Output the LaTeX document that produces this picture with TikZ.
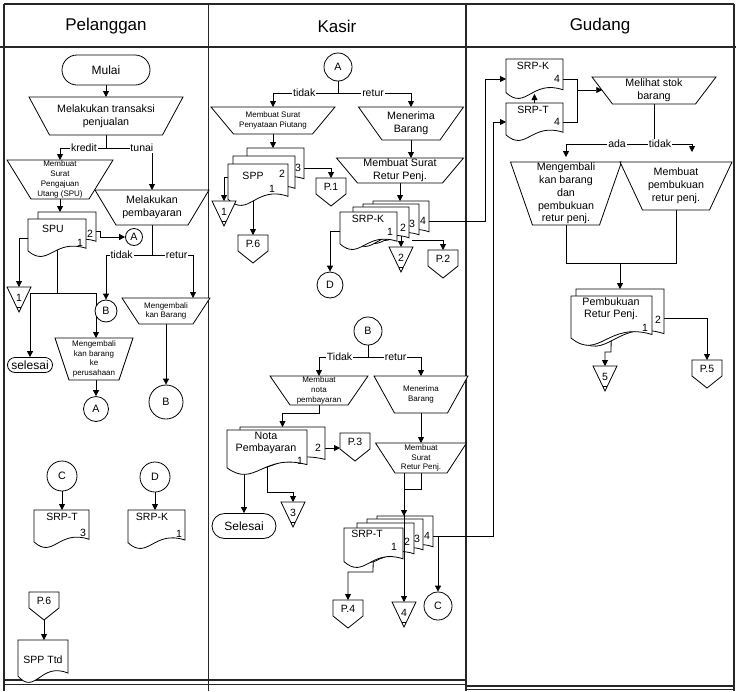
\documentclass[tikz,border=0pt]{standalone}
\usepackage{fontspec}
\setmainfont{Liberation Sans}
\usetikzlibrary{arrows.meta,calc}
\pgfdeclarelayer{lanes}
\pgfdeclarelayer{conn}
\pgfsetlayers{lanes,conn,main}

\newcommand\fn{\fontsize{10.7pt}{12.8pt}\selectfont}
\newcommand\fsm{\fontsize{8pt}{9.8pt}\selectfont}
\newcommand\fhd{\fontsize{17pt}{20pt}\selectfont}
\newcommand\flb{\fontsize{10.5pt}{12pt}\selectfont}
\newcommand\ftm{\fontsize{12pt}{14pt}\selectfont}

\tikzset{
 shp/.style={draw=black, line width=0.8pt, fill=white, line join=miter},
 inv/.style={draw=none, inner sep=0pt, outer sep=0pt},
 arr/.style={draw=black, line width=0.8pt, -{Triangle[length=6pt,width=6pt]}},
 ln/.style={draw=black, line width=0.8pt},
 lbl/.style={fill=white, inner sep=0.8pt, font=\flb},
 txt/.style={inner sep=0pt, font=\flb},
 term/.style={shp, inner sep=0pt, font=\ftm},
 circ/.style={shp, circle, inner sep=0pt, font=\fn},
 lane/.style={draw=black!85, line width=1.6pt},
}

% manual operation: name, cx, ytop, topw, botw, h, font, text
\newcommand\manop[8]{%
 \draw[shp] ({#2-#4/2},#3) -- ({#2+#4/2},#3) -- ({#2+#5/2},{#3+#6}) -- ({#2-#5/2},{#3+#6}) -- cycle;
 \node[inv, minimum width={(#4+#5)/2*1pt}, minimum height=#6pt, font=#7, align=center] (#1) at (#2,{#3+#6/2}) {#8};
}
% document page: name, x, y, w, h
\newcommand\docpage[5]{%
 \node[inv, anchor=north west, minimum width=#4pt, minimum height=#5pt] (#1) at (#2,#3) {};
 \draw[shp] (#2,#3) -- ({#2+#4},#3) -- ({#2+#4},{#3+0.77*#5}) .. controls ({#2+0.45*#4},{#3+0.5*#5}) and ({#2+0.35*#4},{#3+1.3*#5}) .. (#2,{#3+0.84*#5}) -- cycle;
}
% off-page connector: name, cx, ytop, text
\newcommand\offp[4]{%
 \draw[shp] ({#2-15},#3) -- ({#2+15},#3) -- ({#2+15},{#3+16}) -- (#2,{#3+28}) -- ({#2-15},{#3+16}) -- cycle;
 \node[inv, minimum width=30pt, minimum height=28pt] (#1) at (#2,{#3+14}) {};
 \node[txt] (#1t) at (#2,{#3+8.5}) {#4};
}
% offline storage: name, cx, ytop, text
\newcommand\stor[4]{%
 \draw[shp] ({#2-12},#3) -- ({#2+12},#3) -- (#2,{#3+25}) -- cycle;
 \draw[ln] ({#2-2.4},{#3+20}) -- ({#2+2.4},{#3+20});
 \node[inv, minimum width=24pt, minimum height=25pt] (#1) at (#2,{#3+12.5}) {};
 \node[txt] (#1t) at (#2,{#3+11}) {#4};
}

\begin{document}
\begin{tikzpicture}[x=1pt,y=-1pt]
\useasboundingbox (0,0) rectangle (736,691);
\begin{pgfonlayer}{lanes}
 \fill[white] (0,0) rectangle (736,691);
 \draw[lane] (4,4) -- (734,4);
 \draw[lane] (0,47) -- (736,47);
 \draw[lane] (4,4) -- (4,691);
 \draw[lane] (208.5,4) -- (208.5,691);
 \draw[lane] (466,4) -- (466,691);
 \draw[lane] (734,4) -- (734,691);
 \draw[lane] (4,680) -- (466,680);
 \draw[black!85, line width=0.8pt] (4,684.5) -- (466,684.5);
 \draw[lane] (466,686) -- (734,686);
 \draw[black!85, line width=0.8pt] (466,689) -- (734,689);
\end{pgfonlayer}

\node[font=\fhd] (hp) at (106,26) {Pelanggan};
\node[font=\fhd] (hk) at (337,26) {Kasir};
\node[font=\fhd] (hg) at (600,26) {Gudang};

% ---------------- Pelanggan ----------------
\node[term, minimum width=88pt, minimum height=30pt, rounded corners=15pt] (mulai) at (106,70) {Mulai};
\manop{t1}{106}{97}{154}{113}{38}{\fn}{Melakukan transaksi\\penjualan}
\manop{spuT}{60}{160}{106}{58}{39}{\fsm}{Membuat\\Surat\\Pengajuan\\Utang (SPU)}
\manop{mpT}{152}{190}{114}{72}{35}{\fn}{Melakukan\\pembayaran}
\docpage{spu2}{38}{212}{58}{38}
\docpage{spu1}{28}{219}{58}{38}
\node[txt] (spu1a) at (53,229) {SPU};
\node[txt] (spu1b) at (80,243) {1};
\node[txt] (spu2b) at (90,234) {2};
\node[circ, minimum size=17pt] (ca1) at (134,237) {A};
\stor{tri1}{19}{287}{1}
\node[circ, minimum size=22pt] (cb1) at (106,311) {B};
\manop{mbT}{166}{298}{88}{54}{26}{\fsm}{Mengembali\\kan Barang}
\node[term, minimum width=45pt, minimum height=15pt, rounded corners=7.5pt] (sel1) at (30,365) {selesai};
\manop{mk1}{94}{338}{78}{50}{42}{\fsm}{Mengembali\\kan barang\\ke\\perusahaan}
\node[circ, minimum size=25pt] (ca2) at (96,409) {A};
\node[circ, minimum size=34pt] (cb2) at (166,402) {B};
\node[circ, minimum size=30pt] (cc1) at (62,476) {C};
\node[circ, minimum size=30pt] (cd1) at (155,477) {D};
\docpage{srpt3}{34}{510}{55}{38}
\node[txt] (sT3a) at (62,517) {SRP-T};
\node[txt] (sT3b) at (83,533) {3};
\docpage{srpk1}{128}{510}{57}{39}
\node[txt] (sK1a) at (152,517) {SRP-K};
\node[txt] (sK1b) at (179,534) {1};
\offp{p6a}{44}{592}{P.6}
\docpage{sppttd}{18}{640}{50}{43}
\node[txt] (sttd) at (43,660) {SPP Ttd};

% ---------------- Kasir ----------------
\node[circ, minimum size=28pt] (ca3) at (338,67) {A};
\manop{spT}{273}{107}{124}{79}{27}{\fsm}{Membuat Surat\\Penyataan Piutang}
\manop{mbrT1}{411}{107}{105}{58}{33}{\fn}{Menerima\\Barang}
\manop{msrT}{400}{158}{127}{85}{25}{\fn}{Membuat Surat\\Retur Penj.}
\docpage{spp3}{247}{148}{57}{40}
\docpage{spp2}{233}{156}{62}{42}
\docpage{spp1}{228}{164}{60}{42}
\node[txt] (spp1a) at (253,176) {SPP};
\node[txt] (spp1b) at (272,189) {1};
\node[txt] (spp2b) at (282,174) {2};
\node[txt] (spp3b) at (298,168) {3};
\offp{p1}{331}{178}{P.1}
\stor{tri2}{224}{201}{1}
\offp{p6b}{253}{235}{P.6}
\docpage{pk4}{373}{201}{56}{40}
\docpage{pk3}{363}{204}{56}{40}
\docpage{pk2}{353}{207}{56}{40}
\docpage{pk1}{340}{212}{57}{38}
\node[txt] (pk1a) at (368,219) {SRP-K};
\node[txt] (pk1b) at (390,232) {1};
\node[txt] (pk2b) at (403,228) {2};
\node[txt] (pk3b) at (412,224) {3};
\node[txt] (pk4b) at (423,221) {4};
\stor{tri3}{401}{247}{2}
\offp{p2}{443}{250}{P.2}
\node[circ, minimum size=26pt] (cd2) at (330,285) {D};
\node[circ, minimum size=28pt] (cb3) at (368,331) {B};
\manop{notaT}{319}{376}{98}{58}{29}{\fsm}{Membuat\\nota\\pembayaran}
\manop{mbrT2}{421}{376}{94}{53}{37}{\fsm}{Menerima\\Barang}
\manop{msr2T}{421}{443}{91}{52}{30}{\fsm}{Membuat\\Surat\\Retur Penj.}
\docpage{np2}{240}{427}{85}{42}
\docpage{np1}{227}{430}{80}{45}
\node[txt, font=\fn] (np1a) at (266,436) {Nota};
\node[txt, font=\fn] (np1c) at (266,449) {Pembayaran};
\node[txt] (np1b) at (300,461) {1};
\node[txt] (np2b) at (318,448) {2};
\offp{p3}{355}{433}{P.3}
\node[term, minimum width=64pt, minimum height=25pt, rounded corners=12.5pt] (sel2) at (244,526) {Selesai};
\stor{tri5}{293}{502}{3}
\docpage{pt4}{377}{516}{56}{40}
\docpage{pt3}{367}{519}{56}{40}
\docpage{pt2}{357}{523}{57}{40}
\docpage{pt1}{344}{528}{59}{40}
\node[txt] (pt1a) at (367,534) {SRP-T};
\node[txt] (pt1b) at (394,547) {1};
\node[txt] (pt2b) at (407,542) {2};
\node[txt] (pt3b) at (417,539) {3};
\node[txt] (pt4b) at (427,536) {4};
\offp{p4}{348}{600}{P.4}
\stor{tri4}{404}{602}{4}
\node[circ, minimum size=28pt] (cc2) at (438,606) {C};

% ---------------- Gudang ----------------
\docpage{gk}{506}{59}{57}{40}
\node[txt] (gka) at (533,66) {SRP-K};
\node[txt] (gkb) at (557,79) {4};
\docpage{gt}{506}{103}{57}{38}
\node[txt] (gta) at (533,110) {SRP-T};
\node[txt] (gtb) at (557,122) {4};
\manop{mstT}{654}{77}{124}{83}{27}{\fn}{Melihat stok\\barang}
\manop{mkbT}{566}{162}{111}{67}{63}{\fn}{Mengembali\\kan barang\\dan\\pembukuan\\retur penj.}
\manop{mpbT}{676}{162}{112}{67}{48}{\fn}{Membuat\\pembukuan\\retur penj.}
\docpage{pb2}{576}{289}{88}{58}
\docpage{pb1}{571}{296}{81}{50}
\node[txt, font=\fn] (pb1a) at (611,302) {Pembukuan};
\node[txt, font=\fn] (pb1c) at (611,315) {Retur Penj.};
\node[txt] (pb1b) at (645,328) {1};
\node[txt] (pb2b) at (658,320) {2};
\stor{tri6}{605}{366}{5}
\offp{p5}{707}{360}{P.5}

% ---------------- junction points ----------------
\coordinate (j1) at (106,148);
\coordinate (j2) at (57,293);
\coordinate (j3) at (152,255);
\coordinate (j4) at (338,93);
\coordinate (kk) at (485,79);
\coordinate (k3o) at (412,240);
\coordinate (j5) at (368,357);
\coordinate (n1) at (319,413);
\coordinate (n3) at (267,492);
\coordinate (m4) at (421,489);
\coordinate (tt) at (493,122);
\coordinate (t4) at (373,572);
\coordinate (g1) at (577,90);
\coordinate (g2) at (654,144);
\coordinate (g3) at (620,263);
\coordinate (g4) at (611,352);

\begin{pgfonlayer}{conn}
 % Pelanggan
 \draw[arr] (mulai.south) -- (t1.north);
 \draw[ln] (t1.south) -- (j1);
 \draw[arr] (j1) -| node[lbl,pos=.24]{kredit} (spuT.north);
 \draw[arr] (j1) -| node[lbl,pos=.39]{tunai} (mpT.north);
 \draw[arr] (spuT.south) -- (spuT.south |- spu2.north);
 \draw[arr] (spu2.east) -- ++(4,0) |- (ca1.west);
 \draw[arr] (spu1.west) -| (tri1.north);
 \draw[ln] (spu1.center) -- (j2);
 \draw[arr] (j2) -| (sel1.north);
 \draw[arr] (j2) -| (ca2 |- mk1.north);
 \draw[arr] (ca2 |- mk1.south) -- (ca2.north);
 \draw[ln] (mpT.south) -- (j3);
 \draw[arr] (j3) -| node[lbl,pos=.33]{tidak} (cb1.north);
 \draw[arr] (j3) -| node[lbl,pos=.3]{retur} ([xshift=27pt]mbT.north);
 \draw[arr] (mbT.south) -- (cb2.north);
 \draw[arr] (cc1.south) -- (cc1.south |- srpt3.north);
 \draw[arr] (cd1.south) -- (cd1.south |- srpk1.north);
 \draw[arr] (p6a.south) -- (p6a.south |- sppttd.north);
 % Kasir
 \draw[ln] (ca3.south) -- (j4);
 \draw[arr] (j4) -| node[lbl,pos=.26]{tidak} (spT.north);
 \draw[arr] (j4) -| node[lbl,pos=.24]{retur} (mbrT1.north);
 \draw[arr] (spT.south) -- (spT.south |- spp3.north);
 \draw[arr] (spp3.east) -| (p1.north);
 \draw[arr] ([yshift=8pt]spp1.west) -| (tri2.north);
 \draw[arr] (p6b |- spp1.center) -- (p6b.north);
 \draw[arr] (mbrT1.south) -- (mbrT1.south |- msrT.north);
 \draw[arr] (msrT.south) -- (msrT.south |- pk4.north);
 \draw[arr] (pk4.east) -| (kk) -- (gk.west);
 \draw[arr] (pk1.west) -| (cd2.north);
 \draw[arr] (tri3 |- pk2.center) -- (tri3.north);
 \draw[arr] (k3o) -| (p2.north);
 \draw[ln] (cb3.south) -- (j5);
 \draw[arr] (j5) -| node[lbl,pos=.29]{Tidak} (notaT.north);
 \draw[arr] (j5) -| node[lbl,pos=.26]{retur} (mbrT2.north);
 \draw[arr] (notaT.south) -- (n1) -| (np2.north);
 \draw[arr] (np2.east) -- (np2.east -| p3.west);
 \draw[arr] (sel2 |- np1.center) -- (sel2.north);
 \draw[arr] (np1.center) -- (n3) -| (tri5.north);
 \draw[arr] (mbrT2.south) -- (msr2T.north);
 \draw[arr] (msr2T.south) -- (m4) -| (tri4 |- pt4.north);
 \draw[arr] (pt4.east) -| (tt) -- (gt.west);
 \draw[arr] (cc2 |- pt4.east) -- (cc2.north);
 \draw[arr] (pt1.center) -- (t4) -| (p4.north);
 % Gudang
 \draw[ln] (gk.east) -| (g1);
 \draw[ln] (gt.east) -| (g1);
 \draw[arr] (g1) -- (g1 -| mstT.west);
 \draw[ln] (mstT.south) -- (g2);
 \draw[arr, shorten >=5pt] (g2) -| node[lbl,pos=.21]{ada} (mkbT.north);
 \draw[arr, shorten >=10pt] (g2) -| node[lbl,pos=.08]{tidak} ([xshift=16pt]mpbT.north);
 \draw[ln] (mkbT.south) |- (g3);
 \draw[ln] (mpbT.south) |- (g3);
 \draw[arr] (g3) -- (g3 |- pb2.north);
 \draw[arr] (pb2.east) -| (p5.north);
 \draw[arr] (pb1.center) -- (g4) -| (tri6.north);
\end{pgfonlayer}

% connectors drawn over the pages
\draw[arr] (tri4 |- msr2T.south) -- (tri4.north);
\draw[arr] (gt.north) -- ([yshift=5pt]gk.south);
\end{tikzpicture}
\end{document}
